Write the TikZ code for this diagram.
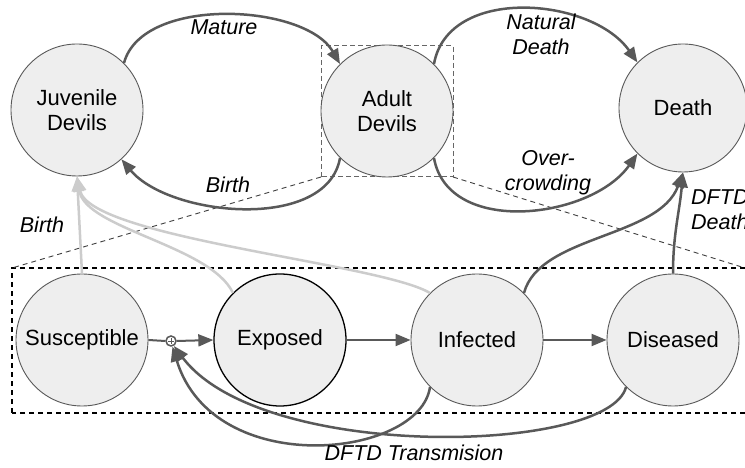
\documentclass[tikz,border=0pt]{standalone}
\usepackage{fontspec}
\setmainfont{Liberation Sans}
\usetikzlibrary{arrows.meta}
\definecolor{dk}{HTML}{595959}
\definecolor{lg}{HTML}{CCCCCC}
\definecolor{fillg}{HTML}{EEEEEE}
\begin{document}
\begin{tikzpicture}[x=1pt,y=1pt,
  state/.style={circle,draw=dk,line width=0.9pt,fill=fillg,minimum size=132pt,inner sep=0pt,align=center,font=\fontsize{22}{25}\selectfont},
  lbl/.style={font=\fontsize{21.5}{25}\selectfont\itshape,align=center,inner sep=0pt},
  darr/.style={draw=dk,line width=2.5pt,-{Triangle[length=15pt,width=12pt]}},
  harr/.style={draw=dk,line width=2pt,-{Triangle[length=15pt,width=12pt]}},
  garr/.style={draw=lg,line width=2.5pt,-{Triangle[length=15pt,width=12pt]}},
  zoomline/.style={draw=black!75,line width=0.9pt,dash pattern=on 5pt off 4pt}
]
\clip (0,0) rectangle (745,468);
\fill[white] (0,0) rectangle (745,468);

% dashed boxes and zoom lines
\draw[black,line width=1.2pt,dash pattern=on 5pt off 4pt] (12,55) rectangle (760,200);
\draw[draw=black!60,line width=1pt,dash pattern=on 5pt off 3pt] (321,291) rectangle (453,422);
\coordinate (bl) at (321,291);
\coordinate (br) at (453,291);
\coordinate (rl) at (12,200);
\coordinate (rr) at (745,200);
\draw[zoomline] (bl) -- (rl);
\draw[zoomline] (br) -- (rr);

% nodes
\node[state] (juv) at (77,358) {Juvenile\\Devils};
\node[state] (adult) at (387,357) {Adult\\Devils};
\node[state,minimum size=128pt] (death) at (683,360) {Death};
\node[state] (sus) at (82,128) {Susceptible};
\node[state,draw=black,line width=1.3pt] (exp) at (280,128) {Exposed};
\node[state] (inf) at (477,128) {Infected};
\node[state] (dis) at (673,128) {Diseased};
\node[circle,draw=dk,line width=1.5pt,fill=white,minimum size=10pt,inner sep=0pt,
  path picture={\draw[dk,line width=0.9pt] ([xshift=-2.8pt]path picture bounding box.center) -- ([xshift=2.8pt]path picture bounding box.center) ([yshift=-2.8pt]path picture bounding box.center) -- ([yshift=2.8pt]path picture bounding box.center);}] (plus) at (171,127) {};

% gray birth arrows
\draw[garr] (sus.north) -- (juv.south);
\draw[garr] (exp.135) .. controls +(115:52) and +(-81:53) .. (juv.south);
\draw[garr] (inf.135) .. controls +(149:58) and +(-78:63) .. (juv.south);

% top arrows
\draw[darr] (juv.45) .. controls +(75:70) and +(120:70) .. (adult.135);
\draw[darr] (adult.225) .. controls +(-100:75) and +(-50:75) .. (juv.-48);
\draw[darr] (adult.45) .. controls +(80:80) and +(125:80) .. (death.135);
\draw[darr] (adult.-45) .. controls +(-80:80) and +(-125:80) .. (death.-135);

% DFTD death
\draw[darr] (inf.45) .. controls +(75:60) and +(-110:70) .. (death.south);
\draw[darr] (dis.north) .. controls +(90:40) and +(-95:40) .. (death.south);

% bottom chain
\draw[draw=dk,line width=2pt] (sus.east) -- (plus.west);
\draw[harr] (plus.east) -- (exp.west);
\draw[harr] (exp.east) -- (inf.west);
\draw[harr] (inf.east) -- (dis.west);

% DFTD transmission
\draw[darr] (inf.-135) .. controls +(-98:72) and +(-73:140) .. (plus.-75);
\draw[darr] (dis.-135) .. controls +(-104:69) and +(-53:146) .. (plus.-60);

% labels
\node[lbl] (lmature) at (224,441) {Mature};
\node[lbl] (lbirth1) at (228,283) {Birth};
\node[lbl] (lnat) at (541,434) {Natural\\Death};
\node[lbl] (lover) at (548,295) {Over-\\crowding};
\node[lbl] (lbirth2) at (42,243) {Birth};
\node[lbl,anchor=west,align=left] (ldd) at (691,258) {DFTD\\Death};
\node[lbl] (ltrans) at (414,15) {DFTD Transmision};
\end{tikzpicture}
\end{document}
